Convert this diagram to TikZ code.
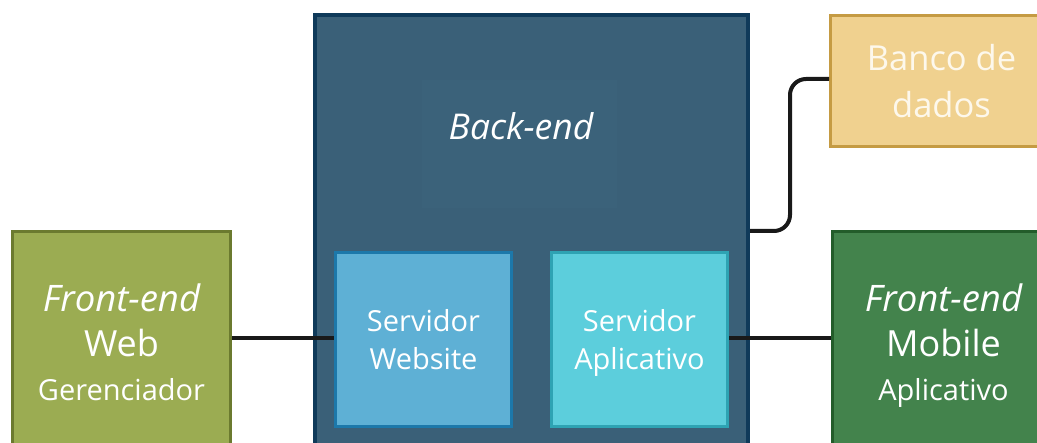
\documentclass[tikz,border=0pt]{standalone}
\usepackage{fontspec}
\setmainfont{Open Sans}
\newcommand{\nodepth}[1]{\raisebox{0pt}[\height][0pt]{#1}}
\begin{document}
\begin{tikzpicture}[x=1pt,y=-1pt,
  box/.style={draw, anchor=north west, inner sep=0pt, text=white, align=center},
  conn/.style={draw=black!90, line width=4pt},
]
\definecolor{beFill}{HTML}{3A6078}\definecolor{beLine}{HTML}{0F3A5A}
\definecolor{beLab}{HTML}{3B627A}
\definecolor{swFill}{HTML}{5EB0D5}\definecolor{swLine}{HTML}{1C78AA}
\definecolor{saFill}{HTML}{5CCEDC}\definecolor{saLine}{HTML}{2EA3B3}
\definecolor{webFill}{HTML}{9BAC52}\definecolor{webLine}{HTML}{6B7A2F}
\definecolor{mobFill}{HTML}{43834C}\definecolor{mobLine}{HTML}{235C2A}
\definecolor{dbFill}{HTML}{F0D18F}\definecolor{dbLine}{HTML}{C59B43}
\definecolor{dbText}{HTML}{FDF8EC}
\useasboundingbox (0,0) rectangle (1037,443);
\clip (0,0) rectangle (1037,443);
% back-end container
\node[box, fill=beFill, draw=beLine, line width=4pt, minimum width=433pt, minimum height=460pt] (be) at (313,13) {};
\fill[beLab] (422,80) rectangle (617,208);
\node[text=white, font=\fontsize{35.5}{40}\selectfont\itshape] (betitle) at (521,126) {Back-end};
% servers
\node[box, fill=swFill, draw=swLine, line width=3pt, minimum width=176pt, minimum height=174pt,
  font=\fontsize{29}{38}\selectfont] (sw) at (334,251) {Servidor\\Website};
\node[box, fill=saFill, draw=saLine, line width=3pt, minimum width=176pt, minimum height=174pt,
  font=\fontsize{29}{38}\selectfont] (sa) at (550,251) {Servidor\\\nodepth{Aplicativo}};
% front-ends
\node[box, fill=webFill, draw=webLine, line width=3pt, minimum width=218pt, minimum height=222pt,
  font=\fontsize{30}{45}\selectfont] (web) at (11,230)
  {{\fontsize{36.5}{45}\selectfont\itshape Front-end}\\[0pt]{\fontsize{36}{45}\selectfont Web}\\[-1pt]{\fontsize{29}{40}\selectfont Gerenciador}};
\node[box, fill=mobFill, draw=mobLine, line width=3pt, minimum width=222pt, minimum height=222pt,
  font=\fontsize{30}{45}\selectfont] (mob) at (831,230)
  {{\fontsize{36.5}{45}\selectfont\itshape Front-end}\\[0pt]{\fontsize{36}{45}\selectfont Mobile}\\[-1pt]{\fontsize{29}{40}\selectfont\nodepth{Aplicativo}}};
% database
\node[box, fill=dbFill, draw=dbLine, line width=3pt, minimum width=222pt, minimum height=131pt, text=dbText,
  font=\fontsize{34.5}{47}\selectfont] (db) at (829,14) {Banco de\\dados};
% connectors
\draw[conn] (web.east |- 0,338) -- (sw.west |- 0,338);
\draw[conn] (sa.east |- 0,338) -- (mob.west |- 0,338);
\draw[conn, rounded corners=16pt] (be.east |- 0,231) -- (790,231) -- (790,79) -- (db.west |- 0,79);
\end{tikzpicture}
\end{document}
